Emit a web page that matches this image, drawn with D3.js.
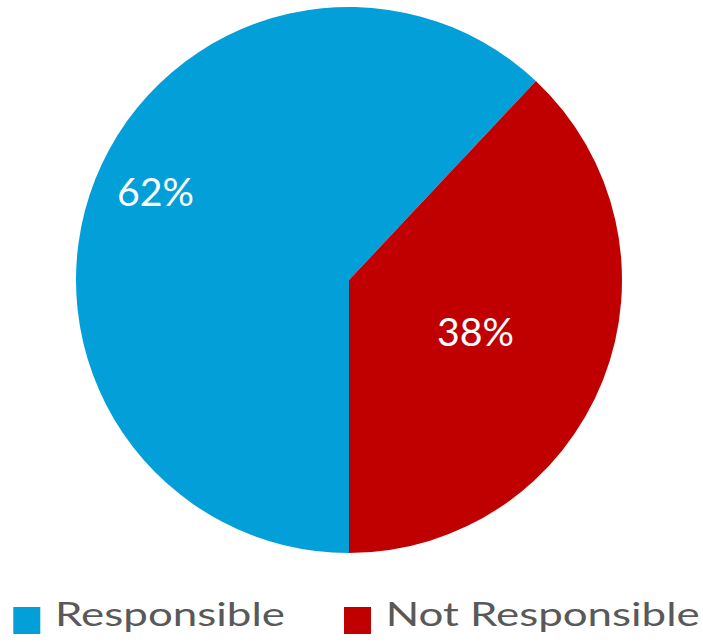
<!DOCTYPE html>
<html><head><meta charset="utf-8">
<script src="https://cdn.jsdelivr.net/npm/d3@7"></script>
<style>html,body{margin:0;padding:0;background:#fff;}svg{display:block;}</style>
</head><body>
<script>
const categories = ["Responsible", "Not Responsible"];
const values = [62, 38];
const labels = ["62%", "38%"];
const colors = ["#029FD9", "#C00000"];

const W = 703, H = 642, cx = 349, cy = 280, R = 273;
const labelRadiusFrac = [0.779, 0.501];
const labelAngleShift = [0.05, 0.012];

const svg = d3.select("body").append("svg").attr("width", W).attr("height", H);
const g = svg.append("g").attr("transform", `translate(${cx},${cy})`);

const pie = d3.pie().sort(null).startAngle(Math.PI).endAngle(3 * Math.PI);
const arcs = pie(values);
const arc = d3.arc().innerRadius(0).outerRadius(R);

g.selectAll("path").data(arcs).join("path")
  .attr("d", arc)
  .attr("fill", (d, i) => colors[i]);

g.selectAll("text.lbl").data(arcs).join("text")
  .attr("class", "lbl")
  .each(function (d, i) {
    const a = (d.startAngle + d.endAngle) / 2 + labelAngleShift[i];
    const r = R * labelRadiusFrac[i];
    d3.select(this)
      .attr("x", r * Math.sin(a))
      .attr("y", -r * Math.cos(a) + 13.8)
      .attr("text-anchor", "middle")
      .attr("fill", "#fff")
      .attr("font-family", "Lato, 'Open Sans', sans-serif")
      .attr("font-size", 38.5)
      .attr("textLength", 77)
      .attr("lengthAdjust", "spacingAndGlyphs")
      .text(labels[i]);
  });

// legend
const legendX = [13.3, 344];
const legendTextLen = [230, 314];
const lg = svg.append("g");
categories.forEach((c, i) => {
  lg.append("rect").attr("x", legendX[i]).attr("y", 607).attr("width", 27).attr("height", 27).attr("fill", colors[i]);
  lg.append("text").attr("x", legendX[i] + 41.7).attr("y", 626)
    .attr("fill", "#595959")
    .attr("font-family", "Lato, 'Open Sans', sans-serif")
    .attr("font-size", 33.5)
    .attr("textLength", legendTextLen[i])
    .attr("lengthAdjust", "spacingAndGlyphs")
    .text(c);
});
</script>
</body></html>
